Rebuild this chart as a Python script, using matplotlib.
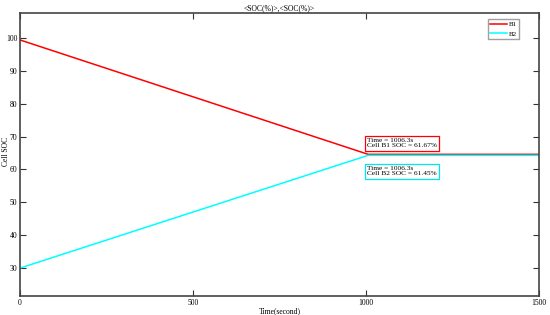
import matplotlib
matplotlib.use("Agg")
import matplotlib.pyplot as plt

time_s = [0, 1006.3, 1500]
soc_b1 = [99.4, 64.6, 64.6]
soc_b2 = [30.0, 64.3, 64.3]
series_names = ["B1", "B2"]
xticks = [0, 500, 1000, 1500]
yticks = [30, 40, 50, 60, 70, 80, 90, 100]
ann_b1 = "Time = 1006.3s\nCell B1 SOC = 61.67%"
ann_b2 = "Time = 1006.3s\nCell B2 SOC = 61.45%"

plt.rcParams['font.family'] = ['Liberation Serif', 'DejaVu Serif']

fig = plt.figure(figsize=(5.5, 3.15), dpi=100)
ax = fig.add_axes([0.0364, 0.0603, 0.9436, 0.8984])

ax.plot(time_s, soc_b1, color='#ff0000', lw=1.1, label=series_names[0])
ax.plot(time_s, soc_b2, color='#00ffff', lw=1.1, label=series_names[1])

ax.set_xlim(0, 1500)
ax.set_ylim(21.5, 107.6)
ax.set_xticks(xticks)
ax.set_yticks(yticks)
ax.tick_params(axis='both', direction='in', length=4, width=0.8, color='#333333',
               labelsize=5.5, top=True, right=True, pad=2)
ax.tick_params(axis='y', labelright=False)
for s in ax.spines.values():
    s.set_color('#444444')
    s.set_linewidth(1.2)

ax.set_title("<SOC(%)>,<SOC(%)>", fontsize=5.5, pad=2)
ax.set_xlabel("Time(second)", fontsize=5.5, labelpad=0)
fig.text(0.011, 0.52, "Cell SOC", fontsize=5.5, rotation=90, ha='center', va='center')

leg = ax.legend(loc='upper right', bbox_to_anchor=(0.968, 0.99), fontsize=5,
                frameon=True, fancybox=False, handlelength=2.5, handletextpad=0.2,
                borderpad=0.3, labelspacing=0.5)
leg.get_frame().set_edgecolor('#888888')
leg.get_frame().set_linewidth(1.0)

ax.text(1003, 66.4, ann_b1, fontsize=5.3, va='bottom', ha='left', linespacing=1.15,
        bbox=dict(boxstyle='square,pad=0.3', fc='white', ec='#ff0000', lw=0.9))
ax.text(1003, 57.9, ann_b2, fontsize=5.3, va='bottom', ha='left', linespacing=1.15,
        bbox=dict(boxstyle='square,pad=0.3', fc='white', ec='#00e5ee', lw=0.9))

fig.savefig("out.png", dpi=100)
